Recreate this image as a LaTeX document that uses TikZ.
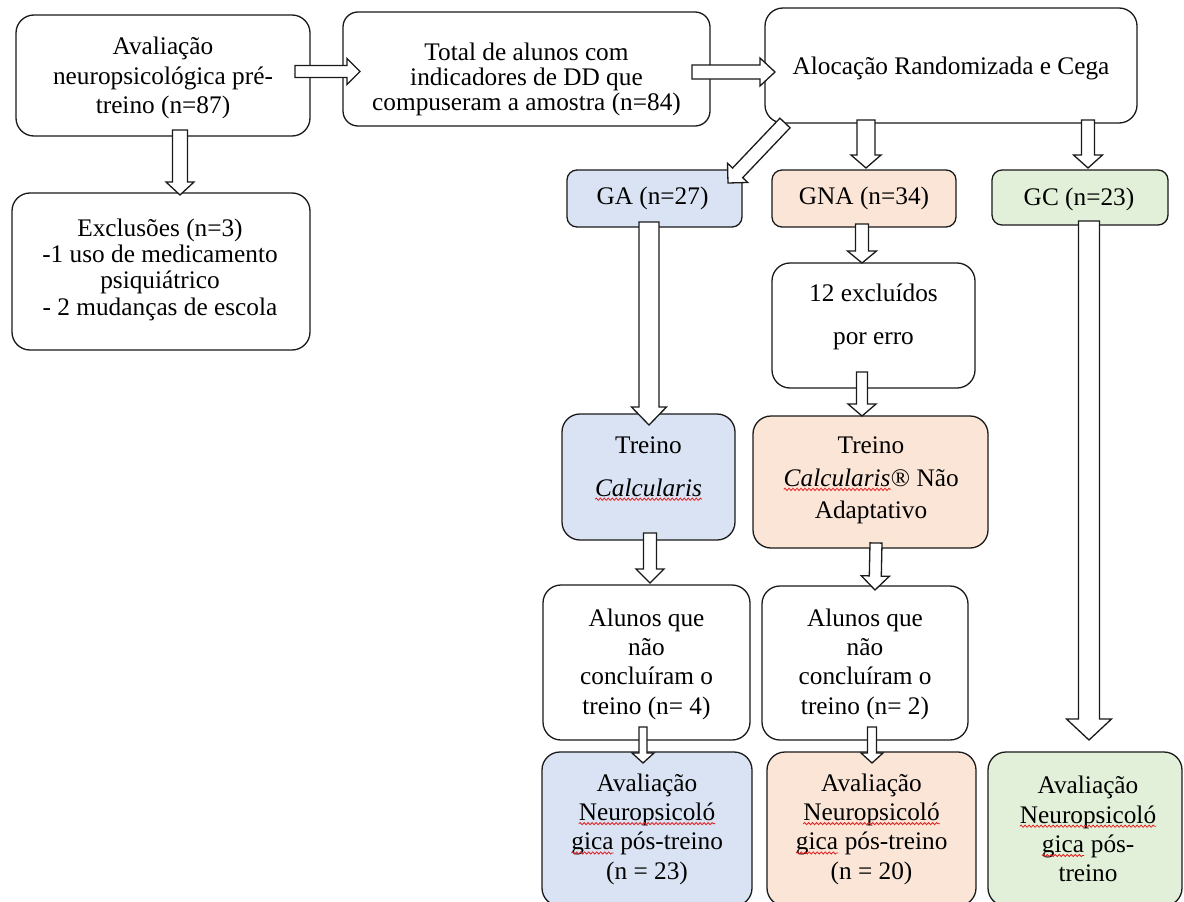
\documentclass[tikz,border=0pt]{standalone}
\usepackage{fontspec}
\setmainfont{Liberation Serif}
\usetikzlibrary{calc,decorations.pathmorphing}
\definecolor{gablue}{HTML}{DAE3F3}
\definecolor{gnaorange}{HTML}{FBE5D6}
\definecolor{gcgreen}{HTML}{E2F0D9}
\definecolor{spellred}{HTML}{E02020}
\definecolor{edge}{HTML}{1A1A1A}
\newcommand\spell[1]{\tikz[baseline=(sp.base)]{\node[inner sep=0pt,outer sep=0pt,draw=none,fill=none](sp){#1};\draw[spellred,line width=0.8pt,decorate,decoration={snake,amplitude=1.1pt,segment length=4pt}] ([yshift=-3.2pt]sp.base west) -- ([yshift=-3.2pt]sp.base east);}}
\newcommand\barrow[5]{%
  \coordinate (hb) at ($(#2)!#5!(#1)$);
  \draw[blockarrow] ($(#1)!#3!90:(#2)$) -- ($(hb)!#3!90:(#2)$) -- ($(hb)!#4!90:(#2)$) -- (#2) -- ($(hb)!#4!-90:(#2)$) -- ($(hb)!#3!-90:(#2)$) -- ($(#1)!#3!-90:(#2)$) -- cycle;}
\begin{document}
\begin{tikzpicture}[x=1pt,y=-1pt,
  box/.style={draw=edge,line width=1.3pt,rounded corners=18pt,inner sep=0pt,outer sep=0pt,fill=white},
  txt/.style={inner sep=0pt,outer sep=0pt,align=center,font=\fontsize{25.3}{29.3}\selectfont},
  blockarrow/.style={draw=edge,line width=1.3pt,fill=white,line join=miter}]
\useasboundingbox (0,0) rectangle (1184,902);
\fill[white] (0,0) rectangle (1184,902);
% boxes
\node[box,minimum width=294,minimum height=121] (b1) at (163,75.5) {};
\node[box,rounded corners=15pt,minimum width=367,minimum height=114] (b2) at (526.5,69) {};
\node[box,minimum width=372,minimum height=115] (b3) at (951,65.5) {};
\node[box,minimum width=298,minimum height=157] (exc) at (161,271.5) {};
\node[box,rounded corners=10pt,fill=gablue,minimum width=175,minimum height=57] (ga) at (654.5,198.5) {};
\node[box,rounded corners=10pt,fill=gnaorange,minimum width=184,minimum height=57] (gna) at (864,198.5) {};
\node[box,rounded corners=10pt,fill=gcgreen,minimum width=176,minimum height=55] (gc) at (1080,197.5) {};
\node[box,minimum width=203,minimum height=125] (x12) at (873.5,325.5) {};
\node[box,fill=gablue,minimum width=173,minimum height=126] (tga) at (648.5,477) {};
\node[box,fill=gnaorange,minimum width=235,minimum height=132] (tna) at (870.5,482) {};
\node[box,minimum width=207,minimum height=155] (aga) at (646.5,662.5) {};
\node[box,minimum width=206,minimum height=154] (agna) at (865,663) {};
\node[box,fill=gablue,minimum width=210,minimum height=154] (avga) at (647,829) {};
\node[box,fill=gnaorange,minimum width=209,minimum height=154] (avgna) at (871.5,829) {};
\node[box,fill=gcgreen,minimum width=194,minimum height=154] (avgc) at (1085,829) {};
% arrow end points
\coordinate (a1s) at ($(b1.east)+(-15,-4)$);
\coordinate (a1e) at ($(b2.west)+(17,2.5)$);
\coordinate (a2s) at ($(b2.east)+(-18,3)$);
\coordinate (a2e) at ($(b3.west)+(10,6.5)$);
\coordinate (a3s) at ($(b1.south)+(17,-6)$);
\coordinate (a3e) at ($(exc.north)+(19,2)$);
\coordinate (a4s) at ($(b3.south west)+(20,0)$);
\coordinate (a4e) at ($(ga.north east)+(-14,13)$);
\coordinate (a5s) at ($(b3.south)+(-85,-3)$);
\coordinate (a5e) at ($(gna.north)+(2,-2)$);
\coordinate (a6s) at ($(b3.south)+(137,-3)$);
\coordinate (a6e) at ($(gc.north)+(8,-2)$);
\coordinate (a7s) at ($(ga.south)+(-5.5,-5)$);
\coordinate (a7e) at ($(tga.north)+(0.5,11)$);
\coordinate (a8s) at ($(gna.south)+(-2,-3)$);
\coordinate (a8e) at ($(x12.north)+(-11.5,0)$);
\coordinate (a9s) at ($(x12.south)+(-11.5,-16)$);
\coordinate (a9e) at ($(tna.north)+(-8.5,0)$);
\coordinate (a10s) at ($(tga.south)+(1.5,-7)$);
\coordinate (a10e) at ($(aga.north)+(3.5,-2)$);
\coordinate (a11s) at ($(tna.south)+(5.5,-5)$);
\coordinate (a11e) at ($(agna.north)+(10,4)$);
\coordinate (a12s) at ($(aga.south)+(-3.5,-13)$);
\coordinate (a12e) at ($(avga.north)+(-4,11)$);
\coordinate (a13s) at ($(agna.south)+(7,-13)$);
\coordinate (a13e) at ($(avgna.north)+(0.5,11)$);
\coordinate (a14s) at ($(gc.south)+(9,-4)$);
\coordinate (a14e) at ($(avgc.north)+(4,-12)$);
% arrows
\barrow{a1s}{a1e}{6pt}{13pt}{13pt}
\barrow{a2s}{a2e}{7pt}{14pt}{15pt}
\barrow{a3s}{a3e}{7.5pt}{14pt}{13pt}
\barrow{a4s}{a4e}{7pt}{14pt}{14pt}
\barrow{a5s}{a5e}{9pt}{15pt}{13pt}
\barrow{a6s}{a6e}{6.5pt}{14.5pt}{13pt}
\barrow{a7s}{a7e}{10pt}{17.5pt}{18pt}
\barrow{a8s}{a8e}{6.5pt}{14.5pt}{12pt}
\barrow{a9s}{a9e}{5.5pt}{14pt}{12pt}
\barrow{a10s}{a10e}{6.5pt}{14pt}{14pt}
\barrow{a11s}{a11e}{6pt}{14pt}{14pt}
\barrow{a12s}{a12e}{4pt}{11pt}{10pt}
\barrow{a13s}{a13e}{4.5pt}{11pt}{10pt}
\barrow{a14s}{a14e}{10.5pt}{22.5pt}{21pt}
% texts
\node[txt,font=\fontsize{25.3}{29.5}\selectfont] (b1t) at ($(b1.center)+(0,2.5)$) {Avaliação\\neuropsicológica pré-\\treino (n=87)};
\node[txt,font=\fontsize{25.3}{25}\selectfont] (b2t) at ($(b2.center)+(0,10)$) {Total de alunos com\\indicadores de DD que\\compuseram a amostra (n=84)};
\node[txt] (b3t) at ($(b3.center)+(0,2.5)$) {Alocação Randomizada e Cega};
\node[txt,font=\fontsize{25.3}{26.3}\selectfont] (exct) at ($(exc.center)+(-1,-2)$) {Exclusões (n=3)\\-1 uso de medicamento\\psiquiátrico\\- 2 mudanças de escola};
\node[txt] (gat) at ($(ga.center)+(-2,-0.5)$) {GA (n=27)};
\node[txt] (gnat) at ($(gna.center)+(0,0)$) {GNA (n=34)};
\node[txt] (gct) at ($(gc.center)+(-1,1.5)$) {GC (n=23)};
\node[txt,font=\fontsize{25.3}{43}\selectfont] (x12t) at ($(x12.center)+(0,-9)$) {12 excluídos\\por erro};
\node[txt,font=\fontsize{25.3}{43}\selectfont] (tgat) at ($(tga.center)+(0,-8.5)$) {Treino\\\spell{\textit{Calcularis}}};
\node[txt,font=\fontsize{25.3}{32.5}\selectfont] (tnat) at ($(tna.center)+(0.5,-1.5)$) {Treino\\\spell{\textit{Calcularis}}® Não\\Adaptativo};
\node[txt] (agat) at ($(aga.center)+(0,1.5)$) {Alunos que\\não\\concluíram o\\treino (n= 4)};
\node[txt] (agnat) at ($(agna.center)+(0,1)$) {Alunos que\\não\\concluíram o\\treino (n= 2)};
\node[txt] (avgat) at ($(avga.center)+(0,0)$) {Avaliação\\\spell{Neuropsicoló}\\\spell{gica} pós-treino\\(n = 23)};
\node[txt] (avgnat) at ($(avgna.center)+(0,0)$) {Avaliação\\\spell{Neuropsicoló}\\\spell{gica} pós-treino\\(n = 20)};
\node[txt] (avgct) at ($(avgc.center)+(3,0)$) {Avaliação\\\spell{Neuropsicoló}\\\spell{gica} pós-\\treino};
\end{tikzpicture}
\end{document}
